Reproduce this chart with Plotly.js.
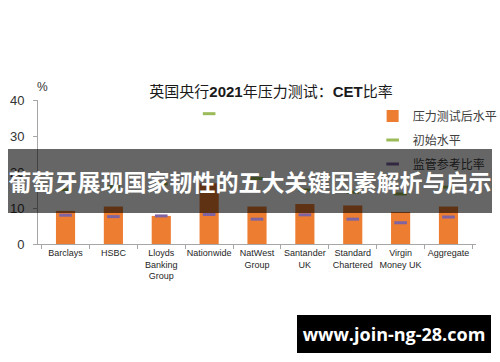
<!DOCTYPE html>
<html>
<head>
<meta charset="utf-8">
<script src="https://cdn.plot.ly/plotly-3.0.1.min.js"></script>
<style>
  html, body { margin: 0; padding: 0; background: #fff; }
  #wrap { position: relative; width: 500px; height: 362px; overflow: hidden; }
  #chart { position: absolute; left: 0; top: 0; width: 500px; height: 362px; }
  #banner { position: absolute; left: 8px; top: 149px; width: 484px; height: 64px;
    background: rgba(0,0,0,0.6); color: #fff; font-family: "Noto Sans CJK SC", sans-serif;
    font-weight: bold; font-size: 23px; line-height: 64px; text-align: center; white-space: nowrap; overflow: hidden; }
  #mark { position: absolute; left: 297px; top: 315px; width: 194px; height: 38px;
    background: #000; color: #fff; font-family: "Open Sans", "DejaVu Sans", sans-serif;
    font-weight: bold; font-size: 18px; line-height: 38px; text-align: center; white-space: nowrap; }
</style>
</head>
<body>
<div id="wrap">
  <div id="chart"></div>
  <div id="banner">葡萄牙展现国家韧性的五大关键因素解析与启示</div>
  <div id="mark">www.join-ng-28.com</div>
</div>
<script>
const categories = ["Barclays", "HSBC", "Lloyds<br>Banking<br>Group", "Nationwide", "NatWest<br>Group",
  "Santander<br>UK", "Standard<br>Chartered", "Virgin<br>Money UK", "Aggregate"];
const stressedLevel = [9.2, 10.4, 7.8, 16.9, 10.4, 11.1, 10.7, 8.9, 10.4];
const initialLevel = [15.1, 15.9, 16.7, 36.2, 18.2, 15.0, 14.4, 13.9, 15.8];
const referenceRate = [8.0, 7.6, 7.8, 8.2, 6.9, 8.1, 6.9, 5.9, 7.5];
const seriesNames = ["压力测试后水平", "初始水平", "监管参考比率"];
const yTicks = [0, 10, 20, 30, 40];

const latin = '"Liberation Sans", Arial, sans-serif';
const cjk = '"Liberation Sans", "Noto Sans CJK SC", sans-serif';

const data = [
  { type: "bar", x: categories, y: stressedLevel, name: seriesNames[0], legendgroup: "a",
    marker: { color: "#ED7D31" }, width: 0.4, hoverinfo: "skip" },
  { type: "scatter", mode: "markers", x: categories, y: initialLevel, name: seriesNames[1], legendgroup: "b",
    marker: { symbol: "line-ew", size: 9, line: { color: "#9BBB59", width: 3 } } },
  { type: "scatter", mode: "markers", x: categories, y: referenceRate, name: seriesNames[2], legendgroup: "c",
    marker: { symbol: "line-ew", size: 9, line: { color: "#8064A2", width: 3 } } }
];

const layout = {
  width: 500, height: 362,
  margin: { l: 38, r: 24, t: 100, b: 118, autoexpand: false },
  paper_bgcolor: "#fff", plot_bgcolor: "#fff",
  showlegend: true,
  title: { text: "英国央行<b>2021</b>年压力测试：<b>CET</b>比率",
    x: 271 / 500, xanchor: "center", y: 1 - 92 / 362, yanchor: "middle",
    font: { family: cjk, size: 15, color: "#1a1a1a" } },
  legend: { x: 0.764, xanchor: "left", y: 0.99, yanchor: "top", traceorder: "grouped",
    bgcolor: "rgba(0,0,0,0)", itemwidth: 30, tracegroupgap: 5,
    font: { family: cjk, size: 12, color: "#404040" } },
  xaxis: { type: "category", showgrid: false, showline: true, linecolor: "#a6a6a6", linewidth: 1,
    ticks: "outside", tickson: "boundaries", ticklen: 4, tickcolor: "#a6a6a6",
    tickfont: { family: latin, size: 9, color: "#262626" }, tickangle: 0, zeroline: false },
  yaxis: { range: [0, 40], tickvals: yTicks, showgrid: false, showline: true, linecolor: "#a6a6a6",
    ticks: "outside", ticklen: 4, tickcolor: "#a6a6a6", zeroline: false, ticklabelstandoff: 6,
    tickfont: { family: latin, size: 13, color: "#333" } },
  annotations: [
    { text: "%", xref: "paper", yref: "paper", x: 4 / 438, y: (244 - 87) / 144,
      xanchor: "center", yanchor: "middle", showarrow: false,
      font: { family: latin, size: 12, color: "#333" } }
  ]
};

Plotly.newPlot("chart", data, layout, { displayModeBar: false, staticPlot: true });
</script>
</body>
</html>
